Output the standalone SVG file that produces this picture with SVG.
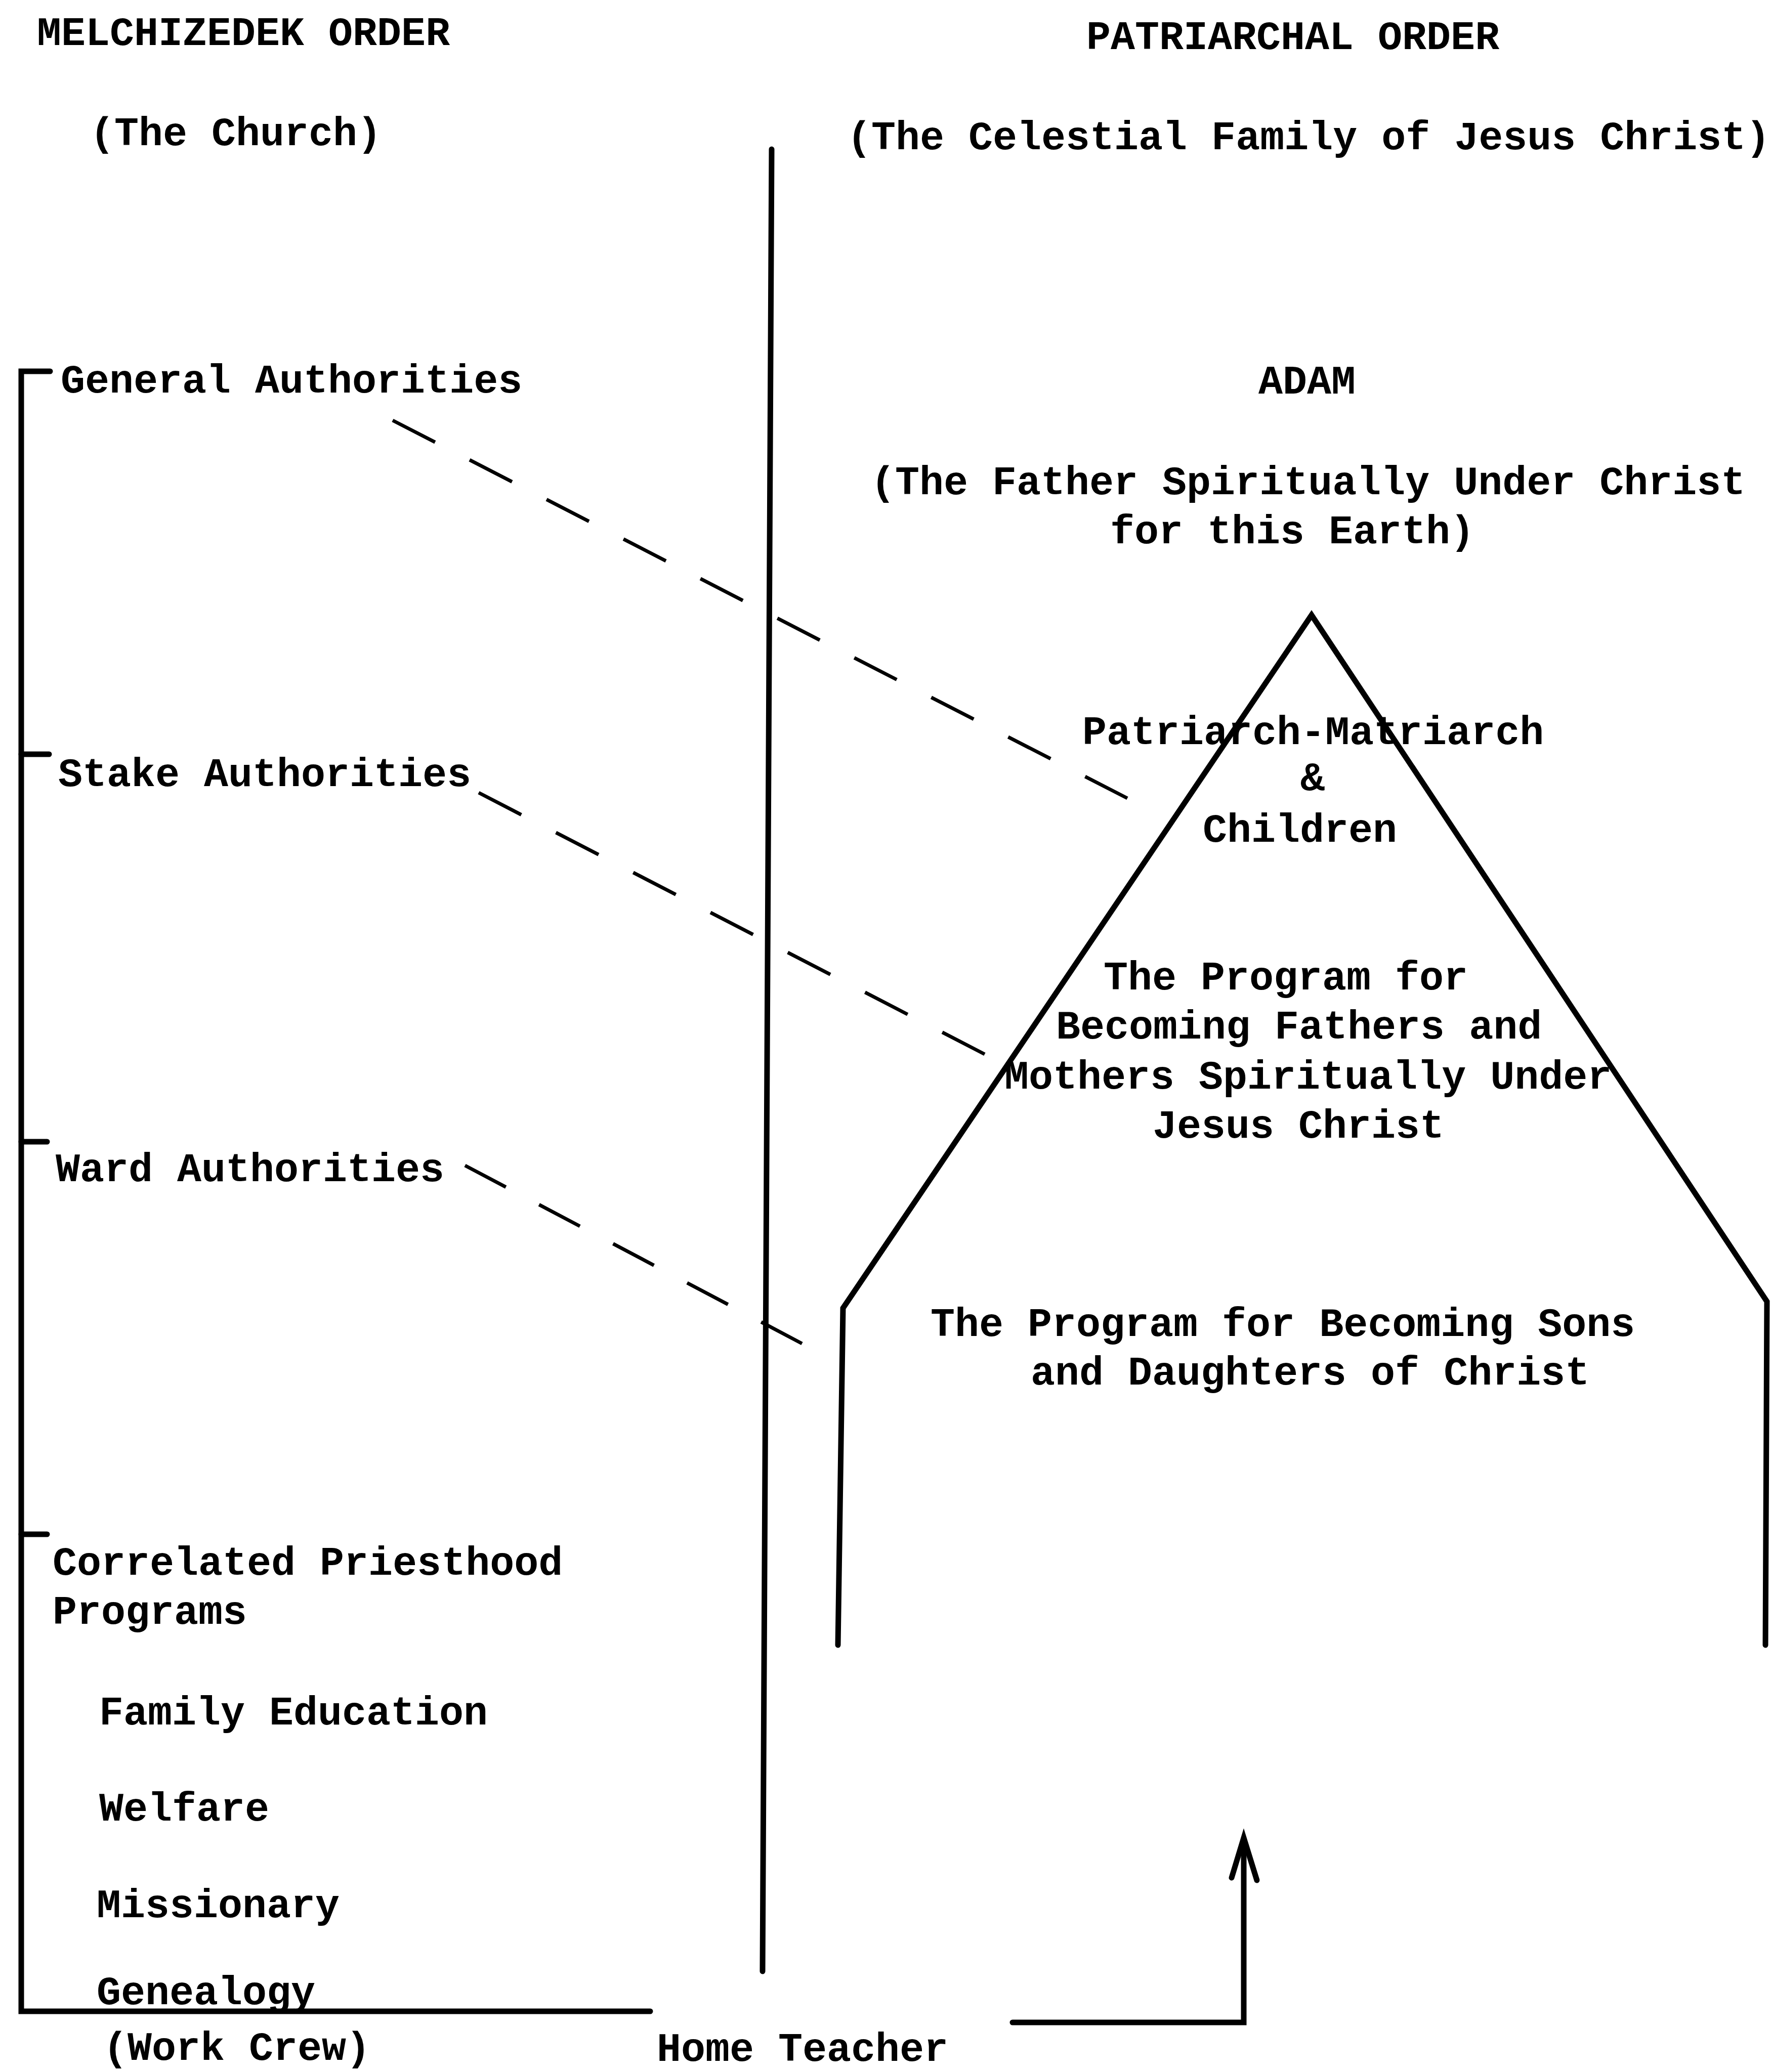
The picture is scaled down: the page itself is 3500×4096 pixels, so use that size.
<svg xmlns="http://www.w3.org/2000/svg" width="3500" height="4096" viewBox="0 0 3500 4096">
  <style>
    text { font-family: "Liberation Mono", "DejaVu Sans Mono", monospace; font-size: 80px; font-weight: bold; fill: #000; }
    .line { fill: none; stroke: #000; stroke-width: 11; stroke-linecap: round; stroke-linejoin: miter; }
    .dash { fill: none; stroke: #000; stroke-width: 7; }
  </style>
  <rect width="3500" height="4096" fill="#fff"/>

  <!-- Column headings -->
  <g id="heading-melchizedek">
    <text x="73" y="89">MELCHIZEDEK ORDER</text>
    <text x="178" y="287">(The Church)</text>
  </g>
  <g id="heading-patriarchal">
    <text x="2147" y="97">PATRIARCHAL ORDER</text>
    <text x="1674" y="295">(The Celestial Family of Jesus Christ)</text>
  </g>

  <!-- Divider between the two orders -->
  <g id="divider">
    <line class="line" x1="1525" y1="295" x2="1507" y2="3897"/>
  </g>

  <!-- Church bracket with its levels -->
  <g id="bracket">
    <path class="line" d="M99 734 H42 V3976 H1285"/>
    <path class="line" d="M42 1491 H97 M42 2257 H93 M42 3033 H93"/>
  </g>
  <g id="general-authorities"><text x="120" y="776">General Authorities</text></g>
  <g id="stake-authorities"><text x="115" y="1554">Stake Authorities</text></g>
  <g id="ward-authorities"><text x="110" y="2335">Ward Authorities</text></g>
  <g id="priesthood-programs">
    <text x="104" y="3113">Correlated Priesthood</text>
    <text x="104" y="3210">Programs</text>
    <text x="196" y="3409">Family Education</text>
    <text x="196" y="3599">Welfare</text>
    <text x="191" y="3790">Missionary</text>
    <text x="191" y="3962">Genealogy</text>
  </g>
  <g id="work-crew"><text x="204" y="4072">(Work Crew)</text></g>
  <g id="home-teacher"><text x="1298" y="4074">Home Teacher</text></g>

  <!-- Patriarchal side -->
  <g id="adam">
    <text x="2487" y="778">ADAM</text>
    <text x="1721" y="977">(The Father Spiritually Under Christ</text>
    <text x="2194" y="1074">for this Earth)</text>
  </g>
  <g id="house">
    <path class="line" d="M1656 3252 L1666 2586 L2592 1216 L3492 2573 L3489 3252"/>
  </g>
  <g id="patriarch-matriarch">
    <text x="2139" y="1471">Patriarch-Matriarch</text>
    <text x="2570" y="1562">&amp;</text>
    <text x="2377" y="1664">Children</text>
  </g>
  <g id="fathers-mothers">
    <text x="2181" y="1956">The Program for</text>
    <text x="2087" y="2053">Becoming Fathers and</text>
    <text x="1985" y="2152">Mothers Spiritually Under</text>
    <text x="2278" y="2249">Jesus Christ</text>
  </g>
  <g id="sons-daughters">
    <text x="1839" y="2641">The Program for Becoming Sons</text>
    <text x="2037" y="2737">and Daughters of Christ</text>
  </g>

  <!-- Connectors -->
  <g id="connectors">
    <line class="dash" stroke-dasharray="94.3 76.7" x1="776" y1="831" x2="2228" y2="1578"/>
    <line class="dash" stroke-dasharray="94.8 77.1" x1="946" y1="1567" x2="1946" y2="2084"/>
    <line class="dash" stroke-dasharray="91.3 74.2" x1="919" y1="2304" x2="1585" y2="2656"/>
    <path class="line" d="M2001 3998 H2458 V3640"/>
    <path class="line" d="M2434 3712 L2458 3633 L2484 3717"/>
  </g>
</svg>
